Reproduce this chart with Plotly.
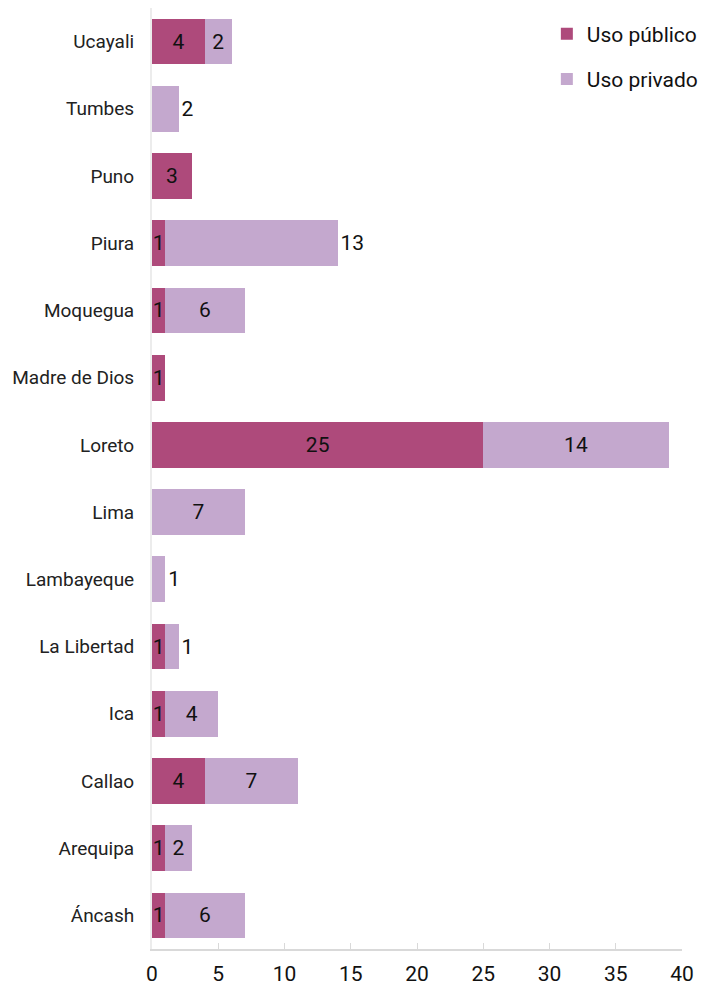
import plotly.graph_objects as go

# categories bottom -> top
regiones = ["Áncash", "Arequipa", "Callao", "Ica", "La Libertad", "Lambayeque",
            "Lima", "Loreto", "Madre de Dios", "Moquegua", "Piura", "Puno",
            "Tumbes", "Ucayali"]
uso_publico = [1, 1, 4, 1, 1, None, None, 25, 1, 1, 1, 3, None, 4]
uso_privado = [6, 2, 7, 4, 1, 1, 7, 14, None, 6, 13, None, 2, 2]
# where the private label sits (Excel put a few past the bar end)
pos_privado = ["inside", "inside", "inside", "inside", "outside", "outside",
               "inside", "inside", "inside", "inside", "outside", "inside",
               "outside", "inside"]
x_ticks = [0, 5, 10, 15, 20, 25, 30, 35, 40]

FONT = "Roboto"

fig = go.Figure()

fig.add_trace(go.Bar(
    y=regiones, x=uso_publico, orientation="h", name="Uso público",
    legendgroup="pub",
    marker=dict(color="#ae4a7b", line=dict(width=0)),
    text=[str(v) if v else "" for v in uso_publico],
    textposition="inside", insidetextanchor="middle",
    textfont=dict(family=FONT, size=21, color="#111111"),
    constraintext="none", cliponaxis=False,
    width=0.68,
))

fig.add_trace(go.Bar(
    y=regiones, x=uso_privado, orientation="h", name="Uso privado",
    legendgroup="priv",
    marker=dict(color="#c4a8ce", line=dict(width=0)),
    text=[str(v) if v else "" for v in uso_privado],
    textposition=pos_privado, insidetextanchor="middle",
    textfont=dict(family=FONT, size=21, color="#111111"),
    outsidetextfont=dict(family=FONT, size=21, color="#111111"),
    constraintext="none", cliponaxis=False,
    width=0.68,
))

# page body adds an 8px margin, so the figure is 8px smaller and margins shifted
fig.update_layout(
    barmode="stack",
    width=699, height=977,
    margin=dict(l=144, r=25, t=0, b=36),
    plot_bgcolor="white", paper_bgcolor="white",
    font=dict(family=FONT, size=18, color="#222222"),
    uniformtext=dict(minsize=21, mode="show"),
    legend=dict(
        x=0.745, xanchor="left",
        y=0.994, yanchor="top",
        font=dict(family=FONT, size=21, color="#111111"),
        traceorder="grouped", tracegroupgap=15,
        bgcolor="rgba(0,0,0,0)", itemwidth=30,
    ),
)

fig.update_xaxes(
    range=[0, 40], tickvals=x_ticks,
    showgrid=False, zeroline=False, automargin=False,
    showline=True, linecolor="#d9d9d9", linewidth=1.5,
    ticks="inside", ticklen=6, tickcolor="#d9d9d9",
    tickfont=dict(family=FONT, size=21, color="#111111"),
    ticklabelstandoff=5,
)
fig.update_yaxes(
    categoryorder="array", categoryarray=regiones,
    showgrid=False, zeroline=False, automargin=False,
    showline=True, linecolor="#ececec", linewidth=2,
    ticks="", ticklabelstandoff=12,
    tickfont=dict(family=FONT, size=19, color="#222222"),
)

fig.write_html("out.html")
